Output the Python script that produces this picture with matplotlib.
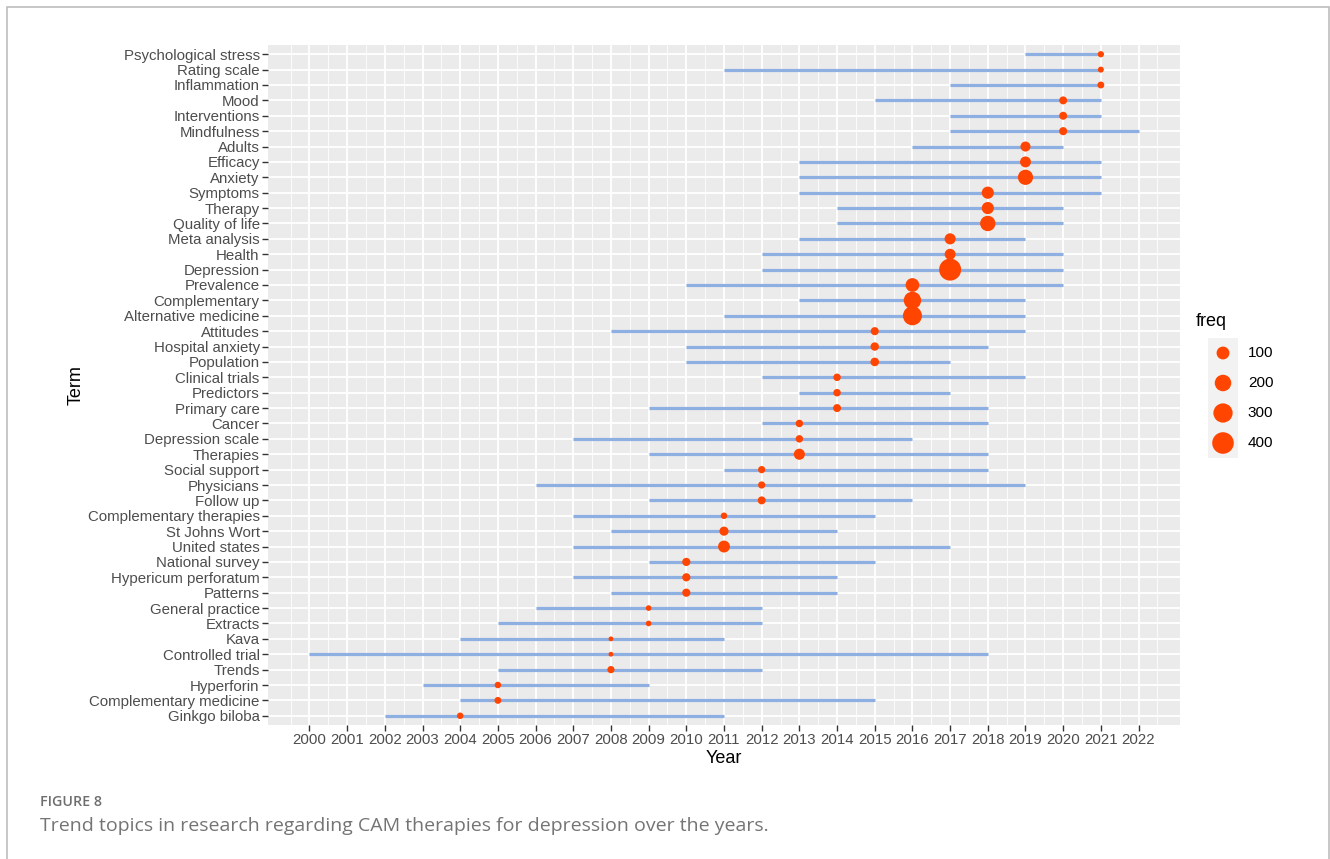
import matplotlib.pyplot as plt
import numpy as np
from matplotlib.patches import Rectangle

plt.rcParams['font.family'] = ['Liberation Sans', 'DejaVu Sans']

# terms from bottom to top
terms = ['Ginkgo biloba', 'Complementary medicine', 'Hyperforin', 'Trends', 'Controlled trial',
         'Kava', 'Extracts', 'General practice', 'Patterns', 'Hypericum perforatum',
         'National survey', 'United states', 'St Johns Wort', 'Complementary therapies',
         'Follow up', 'Physicians', 'Social support', 'Therapies', 'Depression scale', 'Cancer',
         'Primary care', 'Predictors', 'Clinical trials', 'Population', 'Hospital anxiety',
         'Attitudes', 'Alternative medicine', 'Complementary', 'Prevalence', 'Depression',
         'Health', 'Meta analysis', 'Quality of life', 'Therapy', 'Symptoms', 'Anxiety',
         'Efficacy', 'Adults', 'Mindfulness', 'Interventions', 'Mood', 'Inflammation',
         'Rating scale', 'Psychological stress']
year_q1 = [2002, 2004, 2003, 2005, 2000, 2004, 2005, 2006, 2008, 2007,
           2009, 2007, 2008, 2007, 2009, 2006, 2011, 2009, 2007, 2012,
           2009, 2013, 2012, 2010, 2010, 2008, 2011, 2013, 2010, 2012,
           2012, 2013, 2014, 2014, 2013, 2013, 2013, 2016, 2017, 2017,
           2015, 2017, 2011, 2019]
year_q3 = [2011, 2015, 2009, 2012, 2018, 2011, 2012, 2012, 2014, 2014,
           2015, 2017, 2014, 2015, 2016, 2019, 2018, 2018, 2016, 2018,
           2018, 2017, 2019, 2017, 2018, 2019, 2019, 2019, 2020, 2020,
           2020, 2019, 2020, 2020, 2021, 2021, 2021, 2020, 2022, 2021,
           2021, 2021, 2021, 2021]
year_med = [2004, 2005, 2005, 2008, 2008, 2008, 2009, 2009, 2010, 2010,
            2010, 2011, 2011, 2011, 2012, 2012, 2012, 2013, 2013, 2013,
            2014, 2014, 2014, 2015, 2015, 2015, 2016, 2016, 2016, 2017,
            2017, 2017, 2018, 2018, 2018, 2019, 2019, 2019, 2020, 2020,
            2020, 2021, 2021, 2021]
freq = [14, 16, 14, 18, 10, 10, 11, 11, 26, 26,
        26, 80, 36, 14, 24, 18, 18, 65, 20, 20,
        24, 20, 20, 30, 28, 25, 290, 230, 120, 420,
        62, 65, 165, 85, 85, 160, 62, 48, 25, 24,
        24, 16, 12, 13]
years = list(range(2000, 2023))
legend_freq = [100, 200, 300, 400]

LINE_COLOR = '#8dafe2'
POINT_COLOR = '#ff4500'
W, H = 1330, 859
D_MIN, D_MAX = 4.8, 22.0  # point diameter range in px


def point_area(f):
    # ggplot-like area scale: diameter grows with sqrt of rescaled value
    f = np.asarray(f, dtype=float)
    lo, hi = min(freq), max(freq)
    r = np.clip((f - lo) / (hi - lo), 0, 1)
    d_px = D_MIN + (D_MAX - D_MIN) * np.sqrt(r)
    return (d_px * 72 / 100) ** 2


def px_box(x0, y0, x1, y1):
    return [x0 / W, 1 - y1 / H, (x1 - x0) / W, (y1 - y0) / H]


fig = plt.figure(figsize=(W / 100, H / 100), dpi=100)

# outer frame
fig.add_artist(Rectangle((7 / W, -0.05), (1329 - 7) / W, 1.05 - 7 / H, transform=fig.transFigure,
                         fill=False, edgecolor='#bdbdbd', linewidth=1.2))

ax = fig.add_axes(px_box(268, 45, 1180, 725))
ax.set_facecolor('#ebebeb')
for s in ax.spines.values():
    s.set_visible(False)

y = np.arange(1, len(terms) + 1)
ax.set_xlim(years[0] - 0.05 * (years[-1] - years[0]), years[-1] + 0.05 * (years[-1] - years[0]))
ax.set_ylim(0.4, len(terms) + 0.6)

# grid
for yr in years:
    ax.axvline(yr, color='white', lw=1.3, zorder=0)
for yr in np.arange(1999.5, 2023.0, 1.0):
    ax.axvline(yr, color='white', lw=0.6, zorder=0)
for yy in y:
    ax.axhline(yy, color='white', lw=1.3, zorder=0)

ax.hlines(y, year_q1, year_q3, color=LINE_COLOR, lw=2.3, zorder=2)
ax.scatter(year_med, y, s=point_area(freq), color=POINT_COLOR, edgecolors='none', zorder=3)

ax.set_xticks(years)
ax.set_xticklabels([str(v) for v in years])
ax.set_yticks(y)
ax.set_yticklabels(terms)
ax.tick_params(axis='both', length=4, width=1.0, color='#333333', labelcolor='#4d4d4d',
               labelsize=10.8, pad=2)
ax.set_xlabel('Year', fontsize=13, labelpad=2)
ax.set_ylabel('Term', fontsize=13, labelpad=2)

# legend
fig.text(1196 / W, 1 - 322 / H, 'freq', fontsize=13, ha='left', va='center')
lax = fig.add_axes(px_box(1208, 338, 1238, 458))
lax.set_facecolor('#f2f2f2')
lax.set_xlim(0, 1)
lax.set_ylim(0, len(legend_freq))
lax.set_xticks([])
lax.set_yticks([])
for s in lax.spines.values():
    s.set_visible(False)
ly = np.arange(len(legend_freq))[::-1] + 0.5
lax.scatter([0.5] * len(legend_freq), ly, s=point_area(legend_freq), color=POINT_COLOR,
            edgecolors='none')
for v, yy in zip(legend_freq, ly):
    lax.text(1.33, yy, str(v), transform=lax.transData, fontsize=11, color='#000000',
             ha='left', va='center', clip_on=False)

# caption
fig.text(40 / W, 1 - 802 / H, 'FIGURE 8', fontsize=10.3, color='#6e6e6e', family='Open Sans',
         fontweight='semibold', ha='left', va='center')
fig.text(40 / W, 1 - 826 / H, 'Trend topics in research regarding CAM therapies for depression over the years.',
         fontsize=14, color='#747474', family='Open Sans', ha='left', va='center')

fig.savefig('out.png', dpi=100)
